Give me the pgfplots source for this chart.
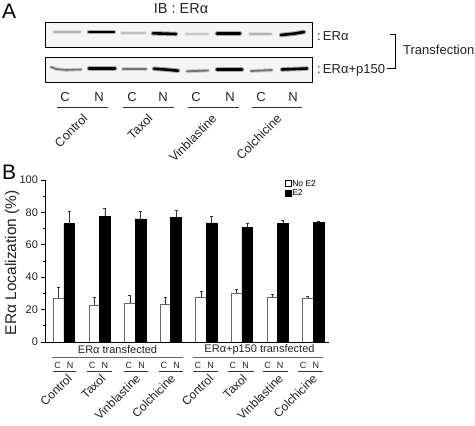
\documentclass[border=0pt]{standalone}
\usepackage{fontspec}
\setmainfont{Liberation Sans}
\usepackage{pgfplots}
\pgfplotsset{compat=1.18}
\definecolor{txt}{HTML}{222222}
\newcommand\fs[1]{\fontsize{#1}{#1}\selectfont}
% western blot band: pale halo, then the band itself
\newcommand\band[3]{%
  \addplot[no marks, line width=#1+2pt, color=#2, opacity=0.3, line cap=round] coordinates {#3};
  \addplot[no marks, line width=#1, color=#2, line cap=round] coordinates {#3};
}
% panel A lane letters and drug names
\newcommand\lane[2]{\node[font=\fs{13}, txt, inner sep=0] at (#1,96.7) {#2};}
\newcommand\laneline[2]{\draw[black!80, line width=0.7pt] (#1,107) -- (#2,107);}
\newcommand\drugA[2]{\node[anchor=north east, rotate=45, font=\fs{12.5}, txt, inner sep=0] at ({#1-6},113) {#2};}
% panel B C/N pair and drug names
\newcommand\pair[2]{%
  \draw[black!80, line width=0.7pt] (#1,371) -- (#2,371);
  \node[font=\fs{9}, txt, inner sep=0] at ({#1+4.8},365.7) {C};
  \node[font=\fs{9}, txt, inner sep=0] at ({#1+17.5},365.7) {N};
}
\newcommand\drugB[2]{\node[anchor=north east, rotate=45, font=\fs{12}, txt, inner sep=0] at ({#1-5},373) {#2};}
\begin{document}
\begin{tikzpicture}
\useasboundingbox (0pt,0pt) rectangle (475pt,426pt);
% panel A and all annotation, in image pixel coordinates
\begin{axis}[
    at={(0pt,0pt)}, anchor=south west,
    scale only axis, width=475pt, height=426pt,
    xmin=0, xmax=475, ymin=0, ymax=426, y dir=reverse,
    hide axis, clip=false,
]
\fill[black!4] (45.3,22.3) rectangle (312.7,47.7);
\fill[black!4] (45.3,57.7) rectangle (312.7,82);
% row 1
\band{2pt}{black!30}{(54,32.3) (80,32.3)}
\band{2.6pt}{black}{(89,32) (114,32)}
\band{2pt}{black!25}{(122,33.3) (145,33.3)}
\band{2.6pt}{black}{(153,33.3) (176,34)}
\band{2pt}{black!20}{(186,34.3) (208,34.3)}
\band{2.6pt}{black}{(217,33.7) (240,33.7)}
\band{2pt}{black!30}{(250,34) (271,34)}
\band{2.6pt}{black}{(281,35) (295,33.5) (304,32)}
% row 2
\band{1.6pt}{black!55}{(51,67) (56,69) (66,70) (81,69.5)}
\band{2.6pt}{black}{(89,68.3) (115,68.3)}
\band{1.8pt}{black!55}{(123,69.3) (146,69.3)}
\band{2.6pt}{black}{(154,68.7) (165,69.5) (178,70.7)}
\band{1.8pt}{black!55}{(187,71.3) (208,70.5)}
\band{2.6pt}{black}{(217,69.5) (242,69.5)}
\band{1.8pt}{black!55}{(251,71) (272,70)}
\band{2.6pt}{black}{(282,69.5) (307,68.5)}
\draw[black, line width=0.9pt] (45.3,22.3) rectangle (312.7,47.7);
\draw[black, line width=0.9pt] (45.3,57.7) rectangle (312.7,82);

\node[anchor=west, font=\fs{21}, inner sep=0] at (2,11) {A};
\node[anchor=west, font=\fs{21}, inner sep=0] at (2,172) {B};
\node[font=\fs{14.5}, txt, inner sep=0] at (181,9) {IB : ERα};
\node[anchor=west, font=\fs{13}, txt, inner sep=0] at (317,36) {:\,ERα};
\node[anchor=west, font=\fs{13}, txt, inner sep=0] at (317,70) {:\,ERα+p150};
\draw[black, line width=0.6pt] (390,34) -- (395.7,34) -- (395.7,68.7) -- (387,68.7);
\node[anchor=west, font=\fs{13}, txt, inner sep=0] at (403,50) {Transfection};

\lane{65}{C}\lane{99}{N}\lane{132}{C}\lane{163}{N}
\lane{196}{C}\lane{230}{N}\lane{261}{C}\lane{293}{N}
\laneline{56.7}{108}\laneline{123.3}{174}\laneline{188.3}{239}\laneline{252.3}{302.3}
\drugA{88}{Control}\drugA{153}{Taxol}\drugA{217}{Vinblastine}\drugA{282}{Colchicine}

% panel B group labels
\node[font=\fs{11}, txt, inner sep=0] at (117.5,350) {ERα transfected};
\node[font=\fs{11}, txt, inner sep=0] at (259.5,350) {ERα+p150 transfected};
\draw[black!60, line width=1pt] (52,357.7) -- (183,357.7);
\draw[black!60, line width=1pt] (193,357.7) -- (323,357.7);
\pair{52.7}{76}\pair{87.3}{111.7}\pair{124}{148}\pair{159}{183}
\pair{193}{218}\pair{228}{253.7}\pair{262.7}{287.7}\pair{298.3}{322.7}
\drugB{71.7}{Control}\drugB{105}{Taxol}\drugB{140}{Vinblastine}\drugB{175}{Colchicine}
\drugB{213}{Control}\drugB{246.7}{Taxol}\drugB{282.7}{Vinblastine}\drugB{316.7}{Colchicine}
\end{axis}

% panel B bars, x unit is one drug group
\begin{axis}[
    at={(45pt,84pt)}, anchor=south west,
    scale only axis, width=284pt, height=162pt,
    xmin=-0.534, xmax=7.444, ymin=0, ymax=100,
    axis x line=bottom, axis y line=left,
    axis line style={-, black, line width=0.7pt},
    xtick=\empty,
    ytick={0,20,...,100},
    minor y tick num=1,
    tick style={black, line width=0.6pt},
    major tick length=3.5pt, minor tick length=2pt,
    tick align=outside,
    yticklabel style={font=\fs{11}, txt, /pgf/number format/assume math mode=true},
    ylabel={ERα Localization (\%)},
    ylabel style={font=\fs{15.5}, txt, anchor=center, at={(axis description cs:-0.116,0.49)}},
    legend style={at={(0.843,1.005)}, anchor=north west, draw=none, fill=none,
        font=\fs{8.5}, row sep=0.5pt, inner sep=0pt, legend cell align=left,
        nodes={inner sep=0.8pt},
        /tikz/every even column/.append style={column sep=3pt}},
    legend image code/.code={
        \filldraw[#1, draw=black, line width=0.9pt] (0pt,-3pt) rectangle (6pt,3pt);
    },
    error bars/error bar style={black!80, line width=0.7pt},
    error bars/error mark options={rotate=90, mark size=1.5pt, line width=0.7pt},
]
\addplot[ybar, bar width=10.7pt, bar shift=0pt, fill=white, draw=black!60, line width=0.7pt,
    error bars/.cd, y dir=plus, y explicit] coordinates {
    (-0.15,27) +- (0,6.7)
    (0.85,22.6) +- (0,4.9)
    (1.85,24) +- (0,4.8)
    (2.85,23) +- (0,4.5)
    (3.85,27.5) +- (0,3.5)
    (4.85,30) +- (0,2.5)
    (5.85,27.5) +- (0,2.1)
    (6.85,27) +- (0,1)
};
\addplot[ybar, bar width=10.7pt, bar shift=0pt, fill=black, draw=black, line width=0.7pt,
    error bars/.cd, y dir=plus, y explicit] coordinates {
    (0.15,73) +- (0,7.4)
    (1.15,77.5) +- (0,5)
    (2.15,76) +- (0,4.9)
    (3.15,77) +- (0,4.3)
    (4.15,73.5) +- (0,3.9)
    (5.15,70.8) +- (0,2.5)
    (6.15,73.3) +- (0,1.7)
    (7.15,73.7) +- (0,0.8)
};
\legend{No E2,E2}
\end{axis}
\end{tikzpicture}
\end{document}
